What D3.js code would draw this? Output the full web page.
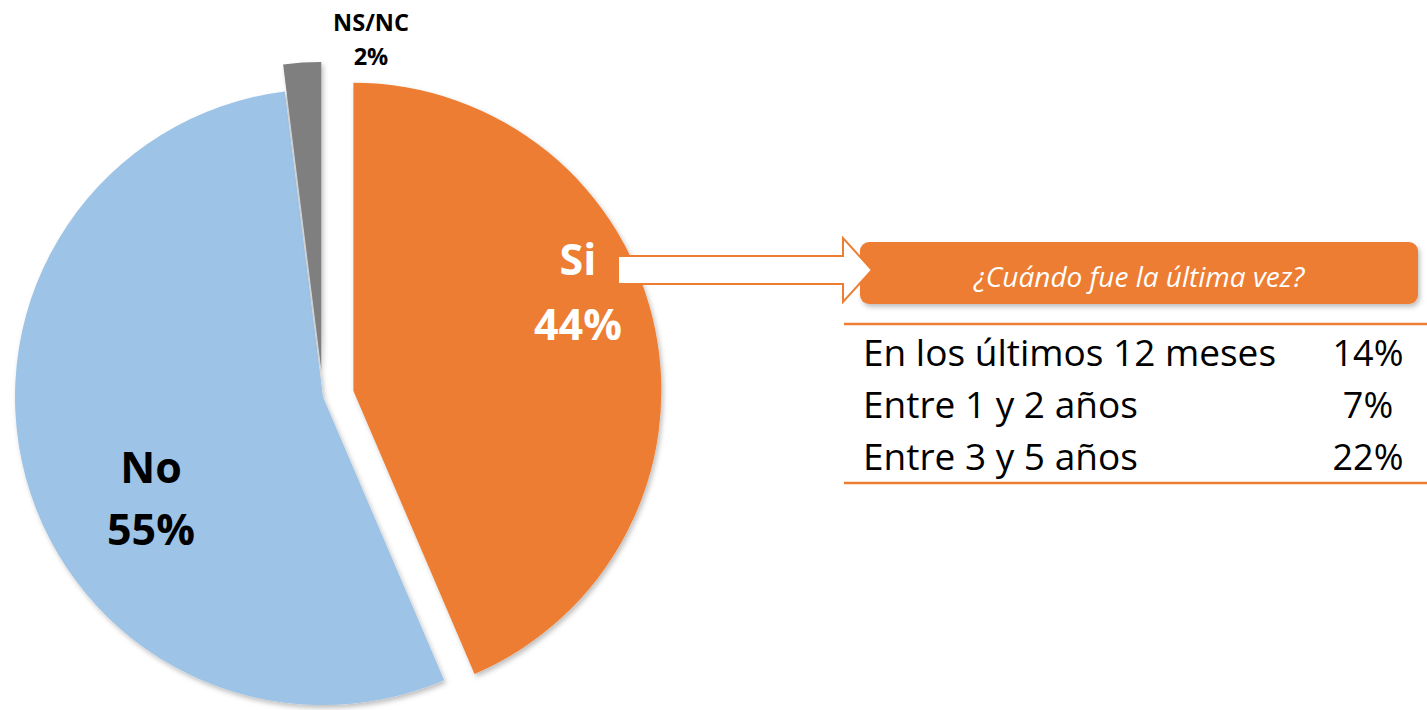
<!DOCTYPE html>
<html lang="es">
<head>
    <meta charset="UTF-8">
    <title>¿Cuándo fue la última vez?</title>
    <script src="https://d3js.org/d3.v7.min.js"></script>
    <style>
        body { margin: 0; background: #fff; }
        svg { display: block; }
        text { font-family: "Open Sans", sans-serif; }
    </style>
</head>
<body>
    <svg width="1427" height="710"></svg>
    <script>
        // Datos del gráfico principal
        var categories = ["Si", "No", "NS/NC"];
        var values = [44, 55, 2];
        var sliceColors = ["#ED7D31", "#9DC3E6", "#7F7F7F"];

        // Desglose de "Si"
        var subTitle = "¿Cuándo fue la última vez?";
        var subCategories = ["En los últimos 12 meses", "Entre 1 y 2 años", "Entre 3 y 5 años"];
        var subValues = [14, 7, 22];

        var svg = d3.select("svg");
        var orange = "#ED7D31";

        // sombra suave
        var defs = svg.append("defs");
        var f = defs.append("filter").attr("id", "shadow")
            .attr("x", "-10%").attr("y", "-10%").attr("width", "130%").attr("height", "130%");
        f.append("feDropShadow")
            .attr("dx", 2).attr("dy", 3).attr("stdDeviation", 2.5)
            .attr("flood-color", "#000").attr("flood-opacity", 0.25);

        // Pie
        var cx = 323, cy = 397, radius = 308;
        var explode = {"Si": 31, "No": 0, "NS/NC": 27};

        var pie = d3.pie().sort(null).value(function(d) { return d.value; });
        var arc = d3.arc().innerRadius(0).outerRadius(radius);

        var data = categories.map(function(c, i) {
            return {name: c, value: values[i], color: sliceColors[i]};
        });
        var arcs = pie(data);

        var g = svg.append("g").attr("transform", "translate(" + cx + "," + cy + ")");

        g.selectAll(".slice")
            .data(arcs)
            .enter().append("path")
            .attr("class", "slice")
            .attr("d", arc)
            .attr("fill", function(d) { return d.data.color; })
            .attr("filter", "url(#shadow)")
            .attr("transform", function(d) {
                var a = (d.startAngle + d.endAngle) / 2;
                var o = explode[d.data.name];
                return "translate(" + (Math.sin(a) * o) + "," + (-Math.cos(a) * o) + ")";
            });

        // Etiquetas del pie
        var labelPos = {
            "Si": {x: 578, y: 275, color: "#fff", size: 43, gap: 65},
            "No": {x: 151, y: 483, color: "#000", size: 43, gap: 62},
            "NS/NC": {x: 371, y: 31, color: "#000", size: 23.5, gap: 34}
        };
        arcs.forEach(function(d) {
            var p = labelPos[d.data.name];
            var t = svg.append("text")
                .attr("text-anchor", "middle")
                .attr("font-weight", "bold")
                .attr("font-size", p.size)
                .attr("fill", p.color);
            t.append("tspan").attr("x", p.x).attr("y", p.y).text(d.data.name);
            t.append("tspan").attr("x", p.x).attr("y", p.y + p.gap).text(d.data.value + "%");
        });

        // Caja del título
        svg.append("rect")
            .attr("x", 860).attr("y", 242)
            .attr("width", 558).attr("height", 62)
            .attr("rx", 9)
            .attr("fill", orange)
            .attr("filter", "url(#shadow)");

        svg.append("text")
            .attr("x", 1139).attr("y", 287)
            .attr("text-anchor", "middle")
            .attr("font-style", "italic")
            .attr("font-size", 28)
            .attr("fill", "#fff")
            .text(subTitle);

        // Flecha
        var arrow = d3.path();
        arrow.moveTo(618, 256);
        arrow.lineTo(843, 256);
        arrow.lineTo(843, 238);
        arrow.lineTo(872, 270);
        arrow.lineTo(843, 302);
        arrow.lineTo(843, 284);
        arrow.lineTo(618, 284);
        arrow.closePath();
        svg.append("path")
            .attr("d", arrow.toString())
            .attr("fill", "#fff")
            .attr("stroke", orange)
            .attr("stroke-width", 2);

        // Tabla
        var y = d3.scalePoint().domain(subCategories).range([366, 470]);

        svg.append("line")
            .attr("x1", 844).attr("x2", 1427)
            .attr("y1", 324).attr("y2", 324)
            .attr("stroke", orange).attr("stroke-width", 2.5);
        svg.append("line")
            .attr("x1", 844).attr("x2", 1427)
            .attr("y1", 483).attr("y2", 483)
            .attr("stroke", orange).attr("stroke-width", 2.5);

        svg.selectAll(".rowlabel")
            .data(subCategories)
            .enter().append("text")
            .attr("class", "rowlabel")
            .attr("x", 863)
            .attr("y", function(d) { return y(d); })
            .attr("font-size", 37)
            .attr("fill", "#000")
            .text(function(d) { return d; });

        svg.selectAll(".rowvalue")
            .data(subValues)
            .enter().append("text")
            .attr("class", "rowvalue")
            .attr("x", 1368)
            .attr("y", function(d, i) { return y(subCategories[i]); })
            .attr("text-anchor", "middle")
            .attr("font-size", 36)
            .attr("fill", "#000")
            .text(function(d) { return d + "%"; });
    </script>
</body>
</html>
